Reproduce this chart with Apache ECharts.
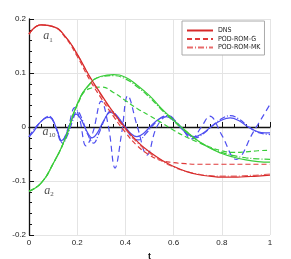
<!DOCTYPE html>
<html><head><meta charset="utf-8">
<script src="https://cdn.jsdelivr.net/npm/echarts@6/dist/echarts.min.js"></script>
<style>html,body{margin:0;padding:0;background:#fff}#c{width:291px;height:259px}</style>
</head><body><div id="c"></div>
<script>
// shared time grid for a1 and a2
const tGrid = [0,0.05,0.1,0.15,0.2,0.25,0.3,0.35,0.4,0.45,0.5,0.55,0.6,0.65,0.7,0.75,0.8,0.85,0.9,0.95,1.0];
const a1DNS = [0.172,0.189,0.186,0.168,0.135,0.095,0.060,0.027,-0.002,-0.027,-0.046,-0.061,-0.073,-0.082,-0.088,-0.091,-0.093,-0.093,-0.092,-0.091,-0.089];
const a1G   = [0.172,0.189,0.186,0.166,0.131,0.089,0.053,0.020,-0.010,-0.035,-0.052,-0.062,-0.066,-0.068,-0.069,-0.069,-0.069,-0.069,-0.069,-0.069,-0.069];
const a1MK  = [0.172,0.189,0.186,0.168,0.134,0.094,0.058,0.025,-0.004,-0.029,-0.048,-0.063,-0.074,-0.082,-0.087,-0.090,-0.091,-0.091,-0.090,-0.089,-0.087];
const a2DNS = [-0.119,-0.104,-0.068,-0.022,0.042,0.079,0.094,0.097,0.092,0.077,0.058,0.034,0.013,-0.007,-0.025,-0.039,-0.049,-0.056,-0.061,-0.064,-0.065];
const a2G   = [-0.119,-0.104,-0.068,-0.022,0.040,0.071,0.074,0.064,0.049,0.034,0.021,0.008,-0.006,-0.018,-0.028,-0.037,-0.044,-0.047,-0.046,-0.044,-0.043];
const a2MK  = [-0.119,-0.104,-0.068,-0.022,0.042,0.078,0.093,0.095,0.089,0.074,0.055,0.032,0.011,-0.008,-0.025,-0.038,-0.047,-0.053,-0.057,-0.059,-0.060];
// a10 curves have their own time samples
const tA10DNS = [0,0.02,0.045,0.07,0.085,0.1,0.118,0.135,0.15,0.17,0.195,0.215,0.24,0.262,0.285,0.31,0.338,0.365,0.4,0.425,0.448,0.475,0.51,0.54,0.57,0.6,0.635,0.66,0.685,0.72,0.76,0.8,0.835,0.87,0.91,0.95,0.98,1.0];
const a10DNS  = [-0.018,-0.008,0.008,0.017,0.018,0.012,-0.008,-0.025,-0.018,0.006,0.024,0.015,-0.008,-0.020,-0.010,0.012,0.027,0.020,0.000,-0.013,-0.018,-0.012,0.004,0.015,0.019,0.012,-0.004,-0.014,-0.018,-0.012,0.002,0.013,0.017,0.012,0.000,-0.009,-0.011,-0.011];
const tA10G = [0,0.045,0.085,0.11,0.135,0.16,0.19,0.21,0.237,0.265,0.3,0.33,0.357,0.385,0.41,0.45,0.49,0.53,0.575,0.63,0.675,0.715,0.75,0.8,0.86,0.93,1.0];
const a10G  = [-0.018,0.008,0.019,0.000,-0.027,-0.005,0.036,0.015,-0.035,-0.010,0.048,0.000,-0.076,-0.010,0.058,0.000,-0.052,0.000,0.020,0.000,-0.022,0.000,0.020,-0.015,-0.060,-0.010,0.042];
const tA10MK = [0,0.045,0.085,0.1,0.12,0.14,0.16,0.18,0.2,0.22,0.245,0.268,0.29,0.315,0.34,0.37,0.4,0.43,0.455,0.485,0.52,0.55,0.58,0.61,0.64,0.665,0.69,0.73,0.77,0.81,0.835,0.87,0.91,0.95,1.0];
const a10MK  = [-0.018,0.008,0.020,0.012,-0.010,-0.030,-0.015,0.010,0.030,0.015,-0.015,-0.030,-0.012,0.015,0.030,0.018,-0.002,-0.020,-0.024,-0.012,0.006,0.018,0.021,0.010,-0.006,-0.016,-0.020,-0.010,0.006,0.018,0.021,0.015,0.001,-0.010,-0.014];
// curve annotations
const noteT = [0.079,0.083,0.083];
const noteV = [0.168,-0.009,-0.118];
const noteSub = ['1','10','2'];
const xTicks = ['0','0.2','0.4','0.6','0.8','1'];

const pairs = (t, v) => t.map((x, i) => [x, v[i]]);
const RED='#d62a2a', RED2='#e03a3a', RED3='#e86a6a', GREEN='#3acc3a', BLUE='#4f4ff0';
const SOLID='solid', DASH=[5,3], DASHL=[6,4], DASHDOT=[6,2,1,2];
function line(name, data, color, type, smooth){
  return {name, type:'line', data, symbol:'none', smooth: smooth, silent:true,
    lineStyle:{color, width:1.2, type}, itemStyle:{color}};
}
const chart = echarts.init(document.getElementById('c'), null, {renderer:'canvas'});
chart.setOption({
  animation:false,
  backgroundColor:'#fff',
  grid:{left:29, right:21, top:19, bottom:24, containLabel:false, outerBoundsMode:'none'},
  legend:{
    data:['DNS','POD-ROM-G','POD-ROM-MK'],
    orient:'vertical', left:182, top:21, itemWidth:26, itemHeight:8, itemGap:1.5,
    padding:[6,4,4,4], borderColor:'#aaa', borderWidth:1, backgroundColor:'#fff',
    itemStyle:{opacity:0},
    textStyle:{fontSize:7, fontFamily:'Liberation Sans Narrow, DejaVu Sans Condensed, Liberation Sans', color:'#222'}
  },
  xAxis:{type:'value', min:0, max:1, interval:0.2, name:'t', nameLocation:'middle', nameGap:14,
    nameTextStyle:{fontSize:9, fontWeight:'bold', fontFamily:'Liberation Sans', color:'#111'},
    axisLine:{show:true, lineStyle:{color:'#111', width:1.3}},
    axisTick:{show:true, inside:true, length:5, lineStyle:{color:'#111'}},
    minorTick:{show:true, splitNumber:4, length:3, lineStyle:{color:'#111'}},
    splitLine:{show:true, lineStyle:{color:'#e4e4e4', width:1}},
    axisLabel:{fontSize:8, fontFamily:'Liberation Sans', color:'#222', margin:4,
      formatter:(v)=>xTicks[Math.round(v/0.2)]}
  },
  yAxis:{type:'value', min:-0.2, max:0.2, interval:0.1, name:'a', nameLocation:'middle', nameGap:19,
    nameTextStyle:{fontSize:10, fontWeight:'bold', fontStyle:'italic', fontFamily:'Liberation Sans', color:'#111'},
    axisLine:{show:true, lineStyle:{color:'#111', width:1.3}},
    axisTick:{show:true, inside:true, length:5, lineStyle:{color:'#111'}},
    minorTick:{show:true, splitNumber:5, length:3, lineStyle:{color:'#111'}},
    splitLine:{show:true, lineStyle:{color:'#e4e4e4', width:1}},
    axisLabel:{fontSize:8, fontFamily:'Liberation Sans', color:'#222', margin:3,
      formatter:(v)=>Math.abs(v)<1e-9?'0':String(Math.round(v*10)/10)}
  },
  series:[
    line('a10 G', pairs(tA10G,a10G), BLUE, DASHL, 0.4),
    line('a10 MK', pairs(tA10MK,a10MK), BLUE, DASHDOT, 0.4),
    line('a10 DNS', pairs(tA10DNS,a10DNS), BLUE, SOLID, 0.4),
    line('a2 G', pairs(tGrid,a2G), GREEN, DASH, true),
    line('a2 MK', pairs(tGrid,a2MK), GREEN, DASHDOT, true),
    line('a2 DNS', pairs(tGrid,a2DNS), GREEN, SOLID, true),
    line('POD-ROM-G', pairs(tGrid,a1G), RED2, DASH, true),
    line('POD-ROM-MK', pairs(tGrid,a1MK), RED3, DASHDOT, true),
    line('DNS', pairs(tGrid,a1DNS), RED, SOLID, true),
    {type:'scatter', silent:true, symbolSize:0, z:10,
      data: noteT.map((t,i)=>[t, noteV[i], noteSub[i]]),
      label:{show:true, position:'inside',
        formatter:(p)=>'{a|a}{s|'+p.value[2]+'}',
        rich:{a:{fontSize:12, fontStyle:'italic', fontFamily:'Liberation Serif', color:'#222', verticalAlign:'middle'},
              s:{fontSize:7, fontFamily:'Liberation Serif', color:'#222', padding:[7,0,0,0], verticalAlign:'middle'}}}
    }
  ]
});
</script>
</body></html>
